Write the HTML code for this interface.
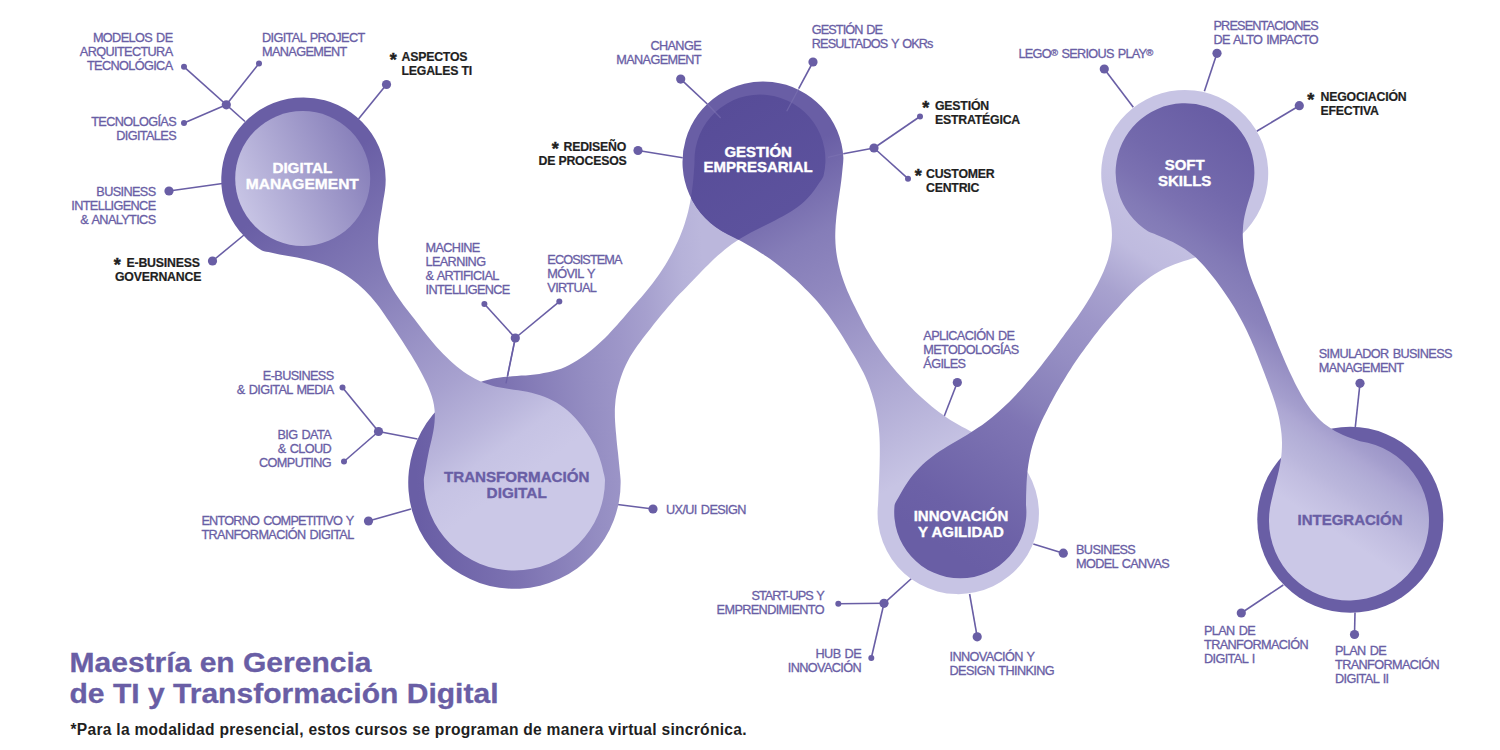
<!DOCTYPE html>
<html lang="es"><head><meta charset="utf-8"><title>Maestría en Gerencia de TI y Transformación Digital</title>
<style>
html,body{margin:0;padding:0;background:#fff;}
body{width:1500px;height:750px;overflow:hidden;}
svg{display:block;}
text{font-family:"Liberation Sans",sans-serif;}
.lr{font-size:12.7px;fill:#695ea5;letter-spacing:-0.62px;word-spacing:1.2px;stroke:#695ea5;stroke-width:0.3px;}
.lb{font-size:12.3px;font-weight:bold;fill:#1f1f1f;letter-spacing:-0.2px;stroke:#1f1f1f;stroke-width:0.2px;}
.st{font-size:18px;stroke-width:0.45px !important;}
.reg{font-size:9.5px;letter-spacing:-0.3px;}
.bt{font-size:15px;font-weight:bold;letter-spacing:0px;stroke-width:0.35px;}
.hd{font-size:28.5px;font-weight:bold;fill:#695ea5;stroke:#695ea5;stroke-width:0.3px;}
.ft{font-size:15.6px;font-weight:bold;fill:#1f1f1f;}
</style></head>
<body>
<svg width="1500" height="750" viewBox="0 0 1500 750">
<defs>
<linearGradient id="g1" gradientUnits="userSpaceOnUse" x1="306.0" y1="183.0" x2="517.0" y2="482.0"><stop offset="0" stop-color="#695ea5"/><stop offset="0.3" stop-color="#827ab6"/><stop offset="0.67" stop-color="#a7a1cf"/><stop offset="0.82" stop-color="#bab6dc"/><stop offset="0.9" stop-color="#c6c3e4"/><stop offset="1" stop-color="#cbc8e7"/></linearGradient>
<linearGradient id="g1i" gradientUnits="userSpaceOnUse" x1="240.0" y1="208.0" x2="368.0" y2="150.0"><stop offset="0" stop-color="#c8c5e5"/><stop offset="1" stop-color="#867eb9"/></linearGradient>
<linearGradient id="g2" gradientUnits="userSpaceOnUse" x1="417.0" y1="490.0" x2="720.0" y2="465.0"><stop offset="0" stop-color="#695ea5"/><stop offset="0.32" stop-color="#7d73b2"/><stop offset="0.58" stop-color="#948dc2"/><stop offset="0.71" stop-color="#9e97c9"/><stop offset="0.8" stop-color="#a6a0ce"/><stop offset="0.93" stop-color="#b6b2d9"/><stop offset="1" stop-color="#bbb7dc"/></linearGradient>
<linearGradient id="g3" gradientUnits="userSpaceOnUse" x1="766.5" y1="168.7" x2="931.7" y2="465.9"><stop offset="0" stop-color="#695ea5"/><stop offset="0.24" stop-color="#857db8"/><stop offset="0.4" stop-color="#9088bf"/><stop offset="1" stop-color="#c7c4e4"/></linearGradient>
<linearGradient id="g4" gradientUnits="userSpaceOnUse" x1="939.0" y1="545.4" x2="1169.5" y2="195.5"><stop offset="0" stop-color="#695ea5"/><stop offset="0.095" stop-color="#6c61a7"/><stop offset="0.221" stop-color="#756bad"/><stop offset="0.35" stop-color="#7f75b4"/><stop offset="0.408" stop-color="#877fb9"/><stop offset="0.544" stop-color="#958ec3"/><stop offset="0.65" stop-color="#9e97c9"/><stop offset="0.735" stop-color="#a8a2cf"/><stop offset="0.844" stop-color="#bfbbdf"/><stop offset="1" stop-color="#c7c4e4"/></linearGradient>
<linearGradient id="g5" gradientUnits="userSpaceOnUse" x1="1230.0" y1="128.3" x2="1076.0" y2="360.7"><stop offset="0" stop-color="#695ea5"/><stop offset="0.22" stop-color="#7369ac"/><stop offset="0.33" stop-color="#7b71b1"/><stop offset="0.41" stop-color="#827ab6"/><stop offset="0.53" stop-color="#8b83bc"/><stop offset="0.63" stop-color="#9a93c6"/><stop offset="0.7" stop-color="#a49ecd"/><stop offset="0.74" stop-color="#ada7d3"/><stop offset="0.79" stop-color="#b3afd7"/><stop offset="0.86" stop-color="#bbb7dc"/><stop offset="0.9" stop-color="#c1bde0"/><stop offset="1" stop-color="#cbc8e7"/></linearGradient>
<clipPath id="c3"><path d="M843.4 158.0 C843.4 161.0 843.0 164.0 842.7 167.0 C842.4 170.0 842.1 173.0 841.8 176.0 C841.5 179.0 841.1 182.0 840.7 185.0 C840.3 188.0 839.8 190.9 839.4 193.9 C839.0 196.9 838.5 199.9 838.1 202.9 C837.7 205.9 837.3 208.8 836.9 211.8 C836.6 214.8 836.2 217.8 836.0 220.8 C835.7 223.8 835.5 226.8 835.4 229.8 C835.3 232.8 835.2 235.8 835.3 238.8 C835.4 241.8 835.5 244.8 835.8 247.8 C836.1 250.8 836.5 253.8 837.0 256.7 C837.5 259.7 838.2 262.6 838.9 265.6 C839.6 268.5 840.4 271.4 841.3 274.2 C842.2 277.1 843.2 280.0 844.2 282.8 C845.2 285.6 846.4 288.4 847.5 291.2 C848.7 293.9 850.0 296.7 851.2 299.4 C852.5 302.1 853.8 304.8 855.2 307.6 C856.5 310.3 857.8 313.0 859.2 315.6 C860.6 318.3 862.0 321.0 863.4 323.7 C864.8 326.3 866.3 328.9 867.8 331.6 C869.3 334.2 870.8 336.7 872.4 339.3 C874.0 341.8 875.7 344.4 877.4 346.8 C879.1 349.3 880.8 351.8 882.6 354.2 C884.4 356.7 886.2 359.1 888.1 361.4 C889.9 363.8 891.8 366.1 893.8 368.4 C895.7 370.8 897.7 373.0 899.7 375.3 C901.7 377.5 903.7 379.8 905.8 381.9 C907.8 384.1 909.9 386.3 912.1 388.4 C914.2 390.6 916.3 392.7 918.5 394.8 C920.7 396.8 922.9 398.9 925.2 400.8 C927.5 402.8 929.8 404.8 932.1 406.7 C934.4 408.6 936.8 410.5 939.2 412.3 C941.6 414.0 944.1 415.8 946.6 417.5 C949.1 419.2 951.6 420.8 954.2 422.3 C956.8 423.9 959.4 425.3 962.0 426.8 C964.7 428.2 967.4 429.6 970.0 431.0 C972.7 432.4 975.4 433.8 978.0 435.2 C980.7 436.6 983.4 438.0 986.0 439.5 C988.6 440.9 991.2 442.4 993.8 444.0 C996.3 445.6 998.9 447.2 1001.3 448.9 C1003.8 450.7 1006.2 452.5 1008.5 454.4 C1010.8 456.3 1013.1 458.2 1015.3 460.3 C1017.5 462.3 1019.7 464.4 1021.8 466.5 C1023.9 468.6 1026.4 470.6 1028.1 473.0 A80.7 80.7 0 1 1 878.0 505.0 C878.2 502.0 878.3 499.0 878.4 496.0 C878.6 493.0 878.7 490.0 878.8 487.0 C878.9 484.1 879.1 481.1 879.2 478.1 C879.3 475.1 879.4 472.1 879.5 469.1 C879.6 466.1 879.7 463.1 879.7 460.1 C879.8 457.1 879.8 454.1 879.8 451.1 C879.8 448.1 879.8 445.1 879.7 442.1 C879.6 439.1 879.5 436.2 879.3 433.2 C879.1 430.2 878.8 427.2 878.4 424.2 C878.1 421.3 877.6 418.3 877.1 415.4 C876.6 412.4 876.0 409.5 875.3 406.6 C874.7 403.7 873.9 400.8 873.1 397.9 C872.3 395.0 871.4 392.2 870.4 389.4 C869.4 386.5 868.3 383.7 867.2 381.0 C866.0 378.2 864.8 375.5 863.5 372.8 C862.2 370.2 860.8 367.5 859.3 364.9 C857.9 362.3 856.4 359.7 854.9 357.1 C853.4 354.5 851.8 351.9 850.3 349.4 C848.8 346.8 847.2 344.2 845.7 341.7 C844.1 339.1 842.6 336.5 841.0 334.0 C839.4 331.5 837.8 329.0 836.1 326.5 C834.4 324.0 832.7 321.5 831.0 319.1 C829.3 316.6 827.5 314.2 825.7 311.8 C823.8 309.5 822.0 307.1 820.1 304.8 C818.2 302.5 816.2 300.3 814.2 298.1 C812.2 295.8 810.1 293.7 808.0 291.5 C805.9 289.4 803.8 287.3 801.7 285.2 C799.5 283.1 797.3 281.1 795.1 279.1 C792.8 277.1 790.6 275.1 788.3 273.2 C786.0 271.3 783.7 269.4 781.3 267.5 C779.0 265.6 776.6 263.8 774.2 262.0 C771.8 260.3 769.4 258.5 766.9 256.8 C764.5 255.1 762.0 253.5 759.4 251.9 C756.9 250.3 754.4 248.7 751.8 247.2 C749.2 245.7 746.6 244.2 744.0 242.7 C741.3 241.3 738.7 239.9 736.0 238.5 C733.4 237.2 730.7 235.9 728.0 234.5 A80.5 80.5 0 1 1 843.4 158.0 Z"/></clipPath>
<linearGradient id="gd" gradientUnits="userSpaceOnUse" x1="710" y1="110" x2="790" y2="235"><stop offset="0" stop-color="#574c98"/><stop offset="1" stop-color="#5d539e"/></linearGradient>
</defs>
<g stroke="#695ea5" stroke-width="1.6"><line x1="184.0" y1="66.8" x2="245.0" y2="121.5"/><line x1="259.0" y1="63.5" x2="226.3" y2="104.8"/><line x1="184.0" y1="123.0" x2="226.3" y2="104.8"/><line x1="386.5" y1="84.5" x2="358.5" y2="119.0"/><line x1="169.0" y1="191.0" x2="222.5" y2="183.5"/><line x1="212.5" y1="261.0" x2="244.0" y2="235.0"/><line x1="484.4" y1="304.0" x2="515.3" y2="338.0"/><line x1="559.3" y1="301.6" x2="515.3" y2="338.0"/><line x1="515.3" y1="338.0" x2="507.5" y2="376.0"/><line x1="342.5" y1="387.5" x2="378.5" y2="431.5"/><line x1="344.0" y1="461.5" x2="378.5" y2="431.5"/><line x1="378.5" y1="431.5" x2="417.5" y2="439.0"/><line x1="368.5" y1="521.0" x2="411.0" y2="509.0"/><line x1="653.0" y1="509.0" x2="617.5" y2="504.5"/><line x1="680.7" y1="79.1" x2="707.3" y2="104.0"/><line x1="813.0" y1="62.0" x2="798.7" y2="88.7"/><line x1="638.0" y1="150.5" x2="682.7" y2="157.7"/><line x1="920.0" y1="116.5" x2="874.0" y2="148.0"/><line x1="908.0" y1="178.7" x2="874.0" y2="148.0"/><line x1="874.0" y1="148.0" x2="843.3" y2="153.7"/><line x1="957.3" y1="382.5" x2="944.0" y2="416.7"/><line x1="1063.3" y1="553.2" x2="1033.3" y2="544.0"/><line x1="838.3" y1="603.7" x2="884.0" y2="603.3"/><line x1="871.3" y1="658.0" x2="884.0" y2="603.3"/><line x1="884.0" y1="603.3" x2="912.0" y2="578.0"/><line x1="977.2" y1="636.8" x2="969.6" y2="594.0"/><line x1="1104.3" y1="69.0" x2="1133.3" y2="107.3"/><line x1="1217.0" y1="53.3" x2="1204.4" y2="91.3"/><line x1="1299.3" y1="105.7" x2="1256.7" y2="131.3"/><line x1="1360.0" y1="383.3" x2="1355.3" y2="427.0"/><line x1="1241.3" y1="613.0" x2="1283.3" y2="585.0"/><line x1="1354.5" y1="634.5" x2="1355.0" y2="612.5"/></g>
<g fill="#695ea5"><circle cx="184.0" cy="66.8" r="3.0"/><circle cx="259.0" cy="63.5" r="3.0"/><circle cx="184.0" cy="123.0" r="3.0"/><circle cx="226.3" cy="104.8" r="4.6"/><circle cx="386.5" cy="84.5" r="4.6"/><circle cx="169.0" cy="191.0" r="4.6"/><circle cx="212.5" cy="261.0" r="4.6"/><circle cx="484.4" cy="304.0" r="3.0"/><circle cx="559.3" cy="301.6" r="3.0"/><circle cx="515.3" cy="338.0" r="4.6"/><circle cx="342.5" cy="387.5" r="3.0"/><circle cx="344.0" cy="461.5" r="3.0"/><circle cx="378.5" cy="431.5" r="4.6"/><circle cx="368.5" cy="521.0" r="4.6"/><circle cx="653.0" cy="509.0" r="4.6"/><circle cx="680.7" cy="79.1" r="4.6"/><circle cx="813.0" cy="62.0" r="4.6"/><circle cx="638.0" cy="150.5" r="4.6"/><circle cx="920.0" cy="116.5" r="3.0"/><circle cx="908.0" cy="178.7" r="3.0"/><circle cx="874.0" cy="148.0" r="4.6"/><circle cx="957.3" cy="382.5" r="4.6"/><circle cx="1063.3" cy="553.2" r="4.6"/><circle cx="838.3" cy="603.7" r="3.0"/><circle cx="871.3" cy="658.0" r="3.0"/><circle cx="884.0" cy="603.3" r="4.6"/><circle cx="977.2" cy="636.8" r="4.6"/><circle cx="1104.3" cy="69.0" r="4.6"/><circle cx="1217.0" cy="53.3" r="4.6"/><circle cx="1299.3" cy="105.7" r="4.6"/><circle cx="1360.0" cy="383.3" r="4.6"/><circle cx="1241.3" cy="613.0" r="4.6"/><circle cx="1354.5" cy="634.5" r="4.6"/></g>
<path d="M503.3 377.0 C506.3 376.7 509.3 376.5 512.3 376.3 C515.3 376.1 518.3 375.9 521.3 375.6 C524.3 375.4 527.3 375.2 530.3 374.9 C533.3 374.6 536.3 374.3 539.3 373.9 C542.3 373.4 545.2 372.9 548.2 372.3 C551.1 371.7 554.0 370.9 556.8 370.0 C559.7 369.1 562.5 368.1 565.2 366.9 C567.9 365.7 570.6 364.3 573.2 362.8 C575.8 361.4 578.3 359.7 580.8 358.1 C583.3 356.4 585.7 354.6 588.1 352.8 C590.5 351.0 592.8 349.0 595.1 347.1 C597.3 345.1 599.6 343.1 601.7 341.0 C603.9 338.9 606.1 336.8 608.2 334.7 C610.3 332.5 612.3 330.3 614.3 328.1 C616.4 325.8 618.4 323.6 620.3 321.3 C622.3 319.1 624.3 316.8 626.2 314.5 C628.2 312.2 630.2 309.9 632.2 307.6 C634.1 305.4 636.1 303.1 638.1 300.8 C640.1 298.6 642.1 296.3 644.0 294.0 C645.9 291.7 647.9 289.4 649.7 287.0 C651.6 284.7 653.4 282.3 655.2 279.8 C656.9 277.4 658.7 274.9 660.4 272.4 C662.0 270.0 663.7 267.4 665.3 264.9 C666.9 262.3 668.4 259.7 669.9 257.1 C671.4 254.5 672.8 251.8 674.1 249.1 C675.4 246.5 676.7 243.7 678.0 241.0 C679.2 238.2 680.3 235.5 681.4 232.7 C682.5 229.9 683.6 227.0 684.5 224.2 C685.4 221.3 686.3 218.5 687.1 215.6 C687.9 212.7 688.6 209.7 689.2 206.8 C689.9 203.9 690.4 200.9 690.9 197.9 C691.4 195.0 691.8 192.0 692.2 189.0 C692.6 186.0 692.9 183.0 693.2 180.0 C693.5 177.0 693.7 174.0 693.9 171.0 C694.2 168.0 694.4 165.0 694.5 162.0 A65.5 65.5 0 1 1 823.5 176.0 C822.5 178.8 820.4 181.1 818.8 183.6 C817.2 186.1 815.5 188.6 813.7 191.0 C811.9 193.4 810.0 195.6 808.0 197.8 C806.0 199.9 803.8 202.0 801.5 203.9 C799.2 205.8 796.8 207.5 794.4 209.2 C791.9 210.9 789.4 212.5 786.8 214.0 C784.2 215.5 781.6 216.9 778.9 218.3 C776.3 219.8 773.6 221.1 771.0 222.5 C768.3 223.9 765.6 225.2 762.9 226.5 C760.3 227.9 757.6 229.2 754.9 230.6 C752.2 232.0 749.6 233.4 747.0 234.8 C744.3 236.3 741.7 237.8 739.2 239.3 C736.7 240.9 734.2 242.6 731.7 244.3 C729.3 246.0 726.9 247.9 724.6 249.7 C722.3 251.6 720.0 253.6 717.8 255.6 C715.6 257.6 713.4 259.6 711.2 261.7 C709.1 263.8 706.9 265.9 704.8 268.0 C702.7 270.2 700.6 272.3 698.6 274.5 C696.5 276.6 694.4 278.8 692.3 281.0 C690.2 283.1 688.1 285.2 686.1 287.4 C684.0 289.5 681.9 291.7 679.8 293.8 C677.7 296.0 675.7 298.2 673.7 300.4 C671.7 302.7 669.7 304.9 667.8 307.2 C665.9 309.5 664.0 311.8 662.1 314.1 C660.2 316.5 658.3 318.8 656.4 321.1 C654.5 323.5 652.7 325.8 650.8 328.2 C648.9 330.5 647.1 332.9 645.2 335.2 C643.4 337.6 641.5 340.0 639.8 342.4 C638.0 344.8 636.2 347.2 634.6 349.7 C632.9 352.2 631.3 354.7 629.8 357.3 C628.3 359.9 627.0 362.5 625.7 365.2 C624.4 367.9 623.3 370.7 622.2 373.5 C621.2 376.3 620.2 379.1 619.4 382.0 C618.5 384.8 617.8 387.7 617.1 390.6 C616.5 393.5 616.0 396.5 615.6 399.4 C615.3 402.4 615.1 405.3 614.9 408.3 C614.8 411.3 614.9 414.3 614.9 417.3 C615.0 420.3 615.2 423.3 615.4 426.3 C615.6 429.2 615.9 432.2 616.2 435.2 C616.4 438.2 616.7 441.2 617.0 444.2 C617.3 447.2 617.7 450.1 618.0 453.1 C618.3 456.1 618.6 459.1 618.9 462.1 C619.2 465.1 619.5 468.0 619.8 471.0 C620.0 474.0 620.5 477.0 620.6 480.0 A106.2 106.2 0 1 1 503.3 377.0 Z" fill="url(#g2)"/>
<line x1="515.3" y1="338" x2="506" y2="383.3" stroke="#695ea5" stroke-width="1.3" opacity="0.8"/>
<path d="M385.0 190.1 C384.7 193.0 384.0 196.0 383.5 199.0 C383.0 201.9 382.5 204.9 382.1 207.9 C381.6 210.9 381.0 213.8 380.6 216.8 C380.1 219.8 379.6 222.8 379.2 225.7 C378.9 228.7 378.5 231.7 378.3 234.7 C378.1 237.7 378.0 240.7 378.1 243.6 C378.2 246.6 378.4 249.6 378.9 252.6 C379.3 255.5 379.9 258.4 380.6 261.3 C381.3 264.2 382.2 267.1 383.3 269.9 C384.3 272.7 385.5 275.5 386.7 278.2 C388.0 280.9 389.4 283.5 390.9 286.1 C392.4 288.7 394.0 291.3 395.6 293.8 C397.3 296.3 399.0 298.8 400.8 301.2 C402.5 303.7 404.3 306.1 406.1 308.5 C408.0 310.9 409.8 313.3 411.6 315.6 C413.5 318.0 415.3 320.4 417.2 322.8 C419.0 325.2 420.8 327.6 422.7 330.0 C424.6 332.3 426.4 334.7 428.3 337.0 C430.2 339.3 432.2 341.7 434.1 343.9 C436.1 346.2 438.1 348.5 440.2 350.7 C442.2 352.9 444.3 355.0 446.4 357.1 C448.6 359.3 450.8 361.3 453.0 363.3 C455.3 365.3 457.6 367.2 460.0 369.0 C462.3 370.9 464.8 372.6 467.3 374.3 C469.8 375.9 472.4 377.4 475.0 378.8 C477.7 380.2 480.4 381.5 483.1 382.6 C485.9 383.7 488.7 384.6 491.6 385.4 C494.5 386.3 497.4 386.9 500.4 387.4 C503.3 388.0 506.3 388.4 509.2 388.9 C512.2 389.4 515.2 389.7 518.2 390.2 C521.1 390.7 524.1 391.2 527.1 391.8 C530.0 392.5 532.9 393.1 535.8 394.0 C538.7 394.8 541.5 395.7 544.3 396.7 C547.1 397.8 549.9 399.0 552.5 400.4 C555.1 401.7 557.7 403.2 560.2 404.9 C562.6 406.5 565.0 408.4 567.3 410.3 C569.5 412.2 571.7 414.3 573.8 416.5 C575.9 418.6 577.8 420.9 579.7 423.2 C581.7 425.5 583.5 427.9 585.2 430.4 C586.9 432.8 588.6 435.3 590.1 437.9 C591.7 440.5 593.1 443.1 594.5 445.8 C595.8 448.5 597.0 451.2 598.1 454.0 C599.2 456.8 600.2 459.6 601.0 462.5 C601.9 465.3 602.6 468.2 603.2 471.2 C603.9 474.1 604.8 477.0 605.0 480.0 A90.6 90.6 0 0 1 423.8 480.0 C423.9 477.0 424.7 474.1 425.2 471.1 C425.7 468.1 426.2 465.2 426.7 462.2 C427.2 459.3 427.8 456.3 428.4 453.4 C429.0 450.4 429.7 447.5 430.4 444.6 C431.1 441.7 431.8 438.8 432.4 435.8 C433.0 432.9 433.6 429.9 434.0 427.0 C434.4 424.1 434.7 421.1 434.8 418.1 C434.9 415.2 434.8 412.2 434.5 409.3 C434.2 406.3 433.7 403.4 433.0 400.5 C432.3 397.7 431.4 394.8 430.3 392.0 C429.3 389.2 428.1 386.5 426.9 383.8 C425.6 381.1 424.2 378.4 422.9 375.7 C421.5 373.0 420.1 370.4 418.6 367.8 C417.1 365.2 415.6 362.5 414.1 360.0 C412.6 357.4 411.0 354.8 409.4 352.3 C407.8 349.7 406.2 347.2 404.6 344.7 C402.9 342.2 401.3 339.7 399.6 337.1 C397.9 334.6 396.3 332.1 394.6 329.6 C392.9 327.1 391.3 324.6 389.6 322.1 C387.9 319.6 386.3 317.1 384.6 314.7 C382.9 312.2 381.2 309.7 379.4 307.3 C377.6 304.9 375.8 302.5 373.8 300.2 C371.9 298.0 369.9 295.7 367.8 293.6 C365.8 291.4 363.6 289.3 361.4 287.3 C359.2 285.3 356.9 283.3 354.6 281.5 C352.2 279.6 349.8 277.8 347.4 276.2 C344.9 274.5 342.3 272.9 339.7 271.5 C337.1 270.0 334.4 268.7 331.7 267.5 C329.0 266.3 326.2 265.3 323.3 264.3 C320.5 263.3 317.6 262.5 314.8 261.7 C311.9 260.9 308.9 260.2 306.0 259.5 C303.1 258.8 300.1 258.2 297.2 257.6 C294.3 257.1 291.3 256.6 288.3 256.0 C285.4 255.5 282.4 254.9 279.5 254.4 C276.5 253.8 273.6 253.2 270.7 252.5 C267.7 251.9 264.6 251.7 261.9 250.5 A82.2 82.2 0 1 1 385.0 190.1 Z" fill="url(#g1)"/>
<circle cx="302.7" cy="178.5" r="67.5" fill="url(#g1i)" />
<path d="M843.4 158.0 C843.4 161.0 843.0 164.0 842.7 167.0 C842.4 170.0 842.1 173.0 841.8 176.0 C841.5 179.0 841.1 182.0 840.7 185.0 C840.3 188.0 839.8 190.9 839.4 193.9 C839.0 196.9 838.5 199.9 838.1 202.9 C837.7 205.9 837.3 208.8 836.9 211.8 C836.6 214.8 836.2 217.8 836.0 220.8 C835.7 223.8 835.5 226.8 835.4 229.8 C835.3 232.8 835.2 235.8 835.3 238.8 C835.4 241.8 835.5 244.8 835.8 247.8 C836.1 250.8 836.5 253.8 837.0 256.7 C837.5 259.7 838.2 262.6 838.9 265.6 C839.6 268.5 840.4 271.4 841.3 274.2 C842.2 277.1 843.2 280.0 844.2 282.8 C845.2 285.6 846.4 288.4 847.5 291.2 C848.7 293.9 850.0 296.7 851.2 299.4 C852.5 302.1 853.8 304.8 855.2 307.6 C856.5 310.3 857.8 313.0 859.2 315.6 C860.6 318.3 862.0 321.0 863.4 323.7 C864.8 326.3 866.3 328.9 867.8 331.6 C869.3 334.2 870.8 336.7 872.4 339.3 C874.0 341.8 875.7 344.4 877.4 346.8 C879.1 349.3 880.8 351.8 882.6 354.2 C884.4 356.7 886.2 359.1 888.1 361.4 C889.9 363.8 891.8 366.1 893.8 368.4 C895.7 370.8 897.7 373.0 899.7 375.3 C901.7 377.5 903.7 379.8 905.8 381.9 C907.8 384.1 909.9 386.3 912.1 388.4 C914.2 390.6 916.3 392.7 918.5 394.8 C920.7 396.8 922.9 398.9 925.2 400.8 C927.5 402.8 929.8 404.8 932.1 406.7 C934.4 408.6 936.8 410.5 939.2 412.3 C941.6 414.0 944.1 415.8 946.6 417.5 C949.1 419.2 951.6 420.8 954.2 422.3 C956.8 423.9 959.4 425.3 962.0 426.8 C964.7 428.2 967.4 429.6 970.0 431.0 C972.7 432.4 975.4 433.8 978.0 435.2 C980.7 436.6 983.4 438.0 986.0 439.5 C988.6 440.9 991.2 442.4 993.8 444.0 C996.3 445.6 998.9 447.2 1001.3 448.9 C1003.8 450.7 1006.2 452.5 1008.5 454.4 C1010.8 456.3 1013.1 458.2 1015.3 460.3 C1017.5 462.3 1019.7 464.4 1021.8 466.5 C1023.9 468.6 1026.4 470.6 1028.1 473.0 A80.7 80.7 0 1 1 878.0 505.0 C878.2 502.0 878.3 499.0 878.4 496.0 C878.6 493.0 878.7 490.0 878.8 487.0 C878.9 484.1 879.1 481.1 879.2 478.1 C879.3 475.1 879.4 472.1 879.5 469.1 C879.6 466.1 879.7 463.1 879.7 460.1 C879.8 457.1 879.8 454.1 879.8 451.1 C879.8 448.1 879.8 445.1 879.7 442.1 C879.6 439.1 879.5 436.2 879.3 433.2 C879.1 430.2 878.8 427.2 878.4 424.2 C878.1 421.3 877.6 418.3 877.1 415.4 C876.6 412.4 876.0 409.5 875.3 406.6 C874.7 403.7 873.9 400.8 873.1 397.9 C872.3 395.0 871.4 392.2 870.4 389.4 C869.4 386.5 868.3 383.7 867.2 381.0 C866.0 378.2 864.8 375.5 863.5 372.8 C862.2 370.2 860.8 367.5 859.3 364.9 C857.9 362.3 856.4 359.7 854.9 357.1 C853.4 354.5 851.8 351.9 850.3 349.4 C848.8 346.8 847.2 344.2 845.7 341.7 C844.1 339.1 842.6 336.5 841.0 334.0 C839.4 331.5 837.8 329.0 836.1 326.5 C834.4 324.0 832.7 321.5 831.0 319.1 C829.3 316.6 827.5 314.2 825.7 311.8 C823.8 309.5 822.0 307.1 820.1 304.8 C818.2 302.5 816.2 300.3 814.2 298.1 C812.2 295.8 810.1 293.7 808.0 291.5 C805.9 289.4 803.8 287.3 801.7 285.2 C799.5 283.1 797.3 281.1 795.1 279.1 C792.8 277.1 790.6 275.1 788.3 273.2 C786.0 271.3 783.7 269.4 781.3 267.5 C779.0 265.6 776.6 263.8 774.2 262.0 C771.8 260.3 769.4 258.5 766.9 256.8 C764.5 255.1 762.0 253.5 759.4 251.9 C756.9 250.3 754.4 248.7 751.8 247.2 C749.2 245.7 746.6 244.2 744.0 242.7 C741.3 241.3 738.7 239.9 736.0 238.5 C733.4 237.2 730.7 235.9 728.0 234.5 A80.5 80.5 0 1 1 843.4 158.0 Z" fill="url(#g3)"/>
<path d="M503.3 377.0 C506.3 376.7 509.3 376.5 512.3 376.3 C515.3 376.1 518.3 375.9 521.3 375.6 C524.3 375.4 527.3 375.2 530.3 374.9 C533.3 374.6 536.3 374.3 539.3 373.9 C542.3 373.4 545.2 372.9 548.2 372.3 C551.1 371.7 554.0 370.9 556.8 370.0 C559.7 369.1 562.5 368.1 565.2 366.9 C567.9 365.7 570.6 364.3 573.2 362.8 C575.8 361.4 578.3 359.7 580.8 358.1 C583.3 356.4 585.7 354.6 588.1 352.8 C590.5 351.0 592.8 349.0 595.1 347.1 C597.3 345.1 599.6 343.1 601.7 341.0 C603.9 338.9 606.1 336.8 608.2 334.7 C610.3 332.5 612.3 330.3 614.3 328.1 C616.4 325.8 618.4 323.6 620.3 321.3 C622.3 319.1 624.3 316.8 626.2 314.5 C628.2 312.2 630.2 309.9 632.2 307.6 C634.1 305.4 636.1 303.1 638.1 300.8 C640.1 298.6 642.1 296.3 644.0 294.0 C645.9 291.7 647.9 289.4 649.7 287.0 C651.6 284.7 653.4 282.3 655.2 279.8 C656.9 277.4 658.7 274.9 660.4 272.4 C662.0 270.0 663.7 267.4 665.3 264.9 C666.9 262.3 668.4 259.7 669.9 257.1 C671.4 254.5 672.8 251.8 674.1 249.1 C675.4 246.5 676.7 243.7 678.0 241.0 C679.2 238.2 680.3 235.5 681.4 232.7 C682.5 229.9 683.6 227.0 684.5 224.2 C685.4 221.3 686.3 218.5 687.1 215.6 C687.9 212.7 688.6 209.7 689.2 206.8 C689.9 203.9 690.4 200.9 690.9 197.9 C691.4 195.0 691.8 192.0 692.2 189.0 C692.6 186.0 692.9 183.0 693.2 180.0 C693.5 177.0 693.7 174.0 693.9 171.0 C694.2 168.0 694.4 165.0 694.5 162.0 A65.5 65.5 0 1 1 823.5 176.0 C822.5 178.8 820.4 181.1 818.8 183.6 C817.2 186.1 815.5 188.6 813.7 191.0 C811.9 193.4 810.0 195.6 808.0 197.8 C806.0 199.9 803.8 202.0 801.5 203.9 C799.2 205.8 796.8 207.5 794.4 209.2 C791.9 210.9 789.4 212.5 786.8 214.0 C784.2 215.5 781.6 216.9 778.9 218.3 C776.3 219.8 773.6 221.1 771.0 222.5 C768.3 223.9 765.6 225.2 762.9 226.5 C760.3 227.9 757.6 229.2 754.9 230.6 C752.2 232.0 749.6 233.4 747.0 234.8 C744.3 236.3 741.7 237.8 739.2 239.3 C736.7 240.9 734.2 242.6 731.7 244.3 C729.3 246.0 726.9 247.9 724.6 249.7 C722.3 251.6 720.0 253.6 717.8 255.6 C715.6 257.6 713.4 259.6 711.2 261.7 C709.1 263.8 706.9 265.9 704.8 268.0 C702.7 270.2 700.6 272.3 698.6 274.5 C696.5 276.6 694.4 278.8 692.3 281.0 C690.2 283.1 688.1 285.2 686.1 287.4 C684.0 289.5 681.9 291.7 679.8 293.8 C677.7 296.0 675.7 298.2 673.7 300.4 C671.7 302.7 669.7 304.9 667.8 307.2 C665.9 309.5 664.0 311.8 662.1 314.1 C660.2 316.5 658.3 318.8 656.4 321.1 C654.5 323.5 652.7 325.8 650.8 328.2 C648.9 330.5 647.1 332.9 645.2 335.2 C643.4 337.6 641.5 340.0 639.8 342.4 C638.0 344.8 636.2 347.2 634.6 349.7 C632.9 352.2 631.3 354.7 629.8 357.3 C628.3 359.9 627.0 362.5 625.7 365.2 C624.4 367.9 623.3 370.7 622.2 373.5 C621.2 376.3 620.2 379.1 619.4 382.0 C618.5 384.8 617.8 387.7 617.1 390.6 C616.5 393.5 616.0 396.5 615.6 399.4 C615.3 402.4 615.1 405.3 614.9 408.3 C614.8 411.3 614.9 414.3 614.9 417.3 C615.0 420.3 615.2 423.3 615.4 426.3 C615.6 429.2 615.9 432.2 616.2 435.2 C616.4 438.2 616.7 441.2 617.0 444.2 C617.3 447.2 617.7 450.1 618.0 453.1 C618.3 456.1 618.6 459.1 618.9 462.1 C619.2 465.1 619.5 468.0 619.8 471.0 C620.0 474.0 620.5 477.0 620.6 480.0 A106.2 106.2 0 1 1 503.3 377.0 Z" fill="url(#gd)" clip-path="url(#c3)"/>
<path d="M894.6 505.0 C895.3 502.1 897.3 499.6 898.7 497.0 C900.1 494.4 901.5 491.8 903.1 489.2 C904.6 486.6 906.2 484.1 907.9 481.7 C909.6 479.2 911.4 476.9 913.3 474.6 C915.2 472.3 917.2 470.1 919.2 467.9 C921.3 465.8 923.5 463.8 925.7 461.8 C928.0 459.9 930.3 458.0 932.7 456.2 C935.1 454.4 937.5 452.7 940.0 451.1 C942.5 449.5 945.0 447.9 947.6 446.3 C950.1 444.8 952.7 443.3 955.3 441.8 C957.9 440.3 960.5 438.8 963.0 437.2 C965.6 435.7 968.1 434.1 970.7 432.5 C973.2 430.9 975.7 429.3 978.2 427.6 C980.6 425.9 983.1 424.2 985.5 422.4 C987.9 420.6 990.2 418.8 992.5 416.9 C994.9 415.0 997.1 413.1 999.4 411.1 C1001.6 409.1 1003.8 407.1 1005.9 405.0 C1008.1 403.0 1010.2 400.8 1012.3 398.7 C1014.4 396.6 1016.4 394.4 1018.4 392.2 C1020.5 390.0 1022.5 387.8 1024.5 385.5 C1026.4 383.3 1028.4 381.0 1030.3 378.8 C1032.3 376.5 1034.2 374.2 1036.1 371.9 C1038.0 369.6 1039.8 367.2 1041.7 364.9 C1043.6 362.5 1045.4 360.2 1047.2 357.8 C1049.0 355.4 1050.8 353.1 1052.6 350.7 C1054.4 348.3 1056.2 345.9 1058.0 343.4 C1059.7 341.0 1061.5 338.6 1063.3 336.2 C1065.0 333.8 1066.8 331.4 1068.6 329.0 C1070.4 326.6 1072.2 324.2 1073.9 321.8 C1075.7 319.4 1077.4 317.0 1079.1 314.5 C1080.8 312.0 1082.5 309.5 1084.1 307.0 C1085.7 304.5 1087.3 302.0 1088.8 299.4 C1090.4 296.9 1091.9 294.3 1093.3 291.7 C1094.8 289.1 1096.3 286.5 1097.7 283.8 C1099.0 281.2 1100.4 278.5 1101.6 275.8 C1102.9 273.1 1104.1 270.4 1105.1 267.6 C1106.2 264.8 1107.2 262.0 1108.1 259.2 C1108.9 256.3 1109.7 253.4 1110.3 250.5 C1110.9 247.6 1111.3 244.7 1111.6 241.8 C1111.9 238.8 1112.0 235.9 1111.9 232.9 C1111.9 230.0 1111.6 227.0 1111.2 224.1 C1110.8 221.1 1110.2 218.2 1109.6 215.3 C1109.0 212.4 1108.2 209.5 1107.4 206.6 C1106.6 203.8 1105.7 200.9 1104.9 198.0 A83.5 83.5 0 1 1 1205.0 254.5 C1202.1 255.4 1199.2 256.3 1196.3 257.2 C1193.4 258.1 1190.5 259.0 1187.6 259.9 C1184.7 260.8 1181.8 261.7 1179.0 262.7 C1176.1 263.6 1173.3 264.7 1170.5 265.9 C1167.7 267.0 1165.0 268.3 1162.3 269.7 C1159.6 271.1 1157.0 272.6 1154.5 274.3 C1151.9 275.9 1149.4 277.6 1147.0 279.4 C1144.6 281.2 1142.3 283.1 1140.0 285.1 C1137.7 287.1 1135.5 289.2 1133.3 291.3 C1131.1 293.4 1129.0 295.6 1126.9 297.8 C1124.8 300.0 1122.8 302.2 1120.7 304.4 C1118.7 306.7 1116.7 309.0 1114.6 311.2 C1112.6 313.5 1110.6 315.8 1108.7 318.1 C1106.7 320.4 1104.7 322.7 1102.8 325.1 C1100.9 327.4 1099.0 329.8 1097.1 332.2 C1095.2 334.6 1093.4 337.0 1091.5 339.4 C1089.7 341.8 1087.9 344.3 1086.1 346.7 C1084.3 349.2 1082.6 351.7 1080.8 354.1 C1079.1 356.6 1077.3 359.1 1075.6 361.6 C1073.9 364.2 1072.2 366.7 1070.6 369.2 C1068.9 371.8 1067.3 374.3 1065.7 376.9 C1064.1 379.5 1062.5 382.1 1060.9 384.7 C1059.4 387.3 1057.9 389.9 1056.4 392.6 C1054.9 395.2 1053.5 397.9 1052.1 400.6 C1050.6 403.3 1049.2 406.0 1047.8 408.7 C1046.5 411.4 1045.1 414.1 1043.7 416.8 C1042.4 419.5 1041.1 422.3 1039.9 425.0 C1038.6 427.8 1037.5 430.6 1036.4 433.4 C1035.3 436.3 1034.4 439.1 1033.5 442.0 C1032.6 444.9 1031.8 447.8 1031.0 450.8 C1030.3 453.7 1029.7 456.7 1029.2 459.7 C1028.6 462.6 1028.2 465.7 1027.8 468.7 C1027.4 471.7 1027.2 474.7 1026.9 477.7 C1026.7 480.7 1026.5 483.8 1026.4 486.8 C1026.3 489.8 1026.2 492.9 1026.1 495.9 C1026.1 498.9 1026.0 502.0 1026.0 505.0 A66.1 66.1 0 1 1 894.6 505.0 Z" fill="url(#g4)"/>
<circle cx="1350.3" cy="519.8" r="93.0" fill="#695ea5" />
<path d="M1253.1 186.0 C1252.5 189.0 1251.4 191.8 1250.6 194.7 C1249.7 197.6 1248.8 200.4 1247.9 203.3 C1247.1 206.2 1246.2 209.1 1245.5 212.0 C1244.8 214.9 1244.2 217.8 1243.7 220.8 C1243.3 223.7 1243.0 226.7 1242.9 229.7 C1242.7 232.7 1242.7 235.8 1242.9 238.8 C1243.0 241.8 1243.3 244.8 1243.6 247.8 C1244.0 250.8 1244.5 253.7 1245.1 256.7 C1245.7 259.7 1246.4 262.6 1247.1 265.5 C1247.9 268.4 1248.8 271.3 1249.8 274.2 C1250.8 277.0 1251.8 279.9 1252.9 282.7 C1254.0 285.5 1255.2 288.3 1256.3 291.1 C1257.5 293.9 1258.6 296.7 1259.8 299.5 C1260.9 302.3 1262.0 305.1 1263.2 307.9 C1264.3 310.8 1265.4 313.6 1266.6 316.4 C1267.7 319.2 1268.8 322.0 1269.9 324.8 C1271.1 327.6 1272.2 330.5 1273.3 333.3 C1274.4 336.1 1275.6 338.9 1276.7 341.7 C1277.8 344.5 1279.0 347.3 1280.1 350.1 C1281.3 352.9 1282.5 355.7 1283.7 358.5 C1284.9 361.3 1286.1 364.1 1287.3 366.8 C1288.5 369.6 1289.8 372.4 1291.1 375.1 C1292.4 377.8 1293.7 380.6 1295.0 383.3 C1296.4 386.0 1297.8 388.7 1299.3 391.3 C1300.7 394.0 1302.2 396.6 1303.8 399.2 C1305.4 401.7 1307.0 404.3 1308.8 406.7 C1310.5 409.2 1312.4 411.6 1314.3 413.8 C1316.3 416.1 1318.3 418.3 1320.5 420.4 C1322.7 422.4 1325.0 424.4 1327.4 426.1 C1329.8 427.9 1332.3 429.5 1334.9 431.0 C1337.5 432.5 1340.3 433.8 1343.0 435.0 C1345.8 436.2 1348.6 437.3 1351.4 438.3 C1354.3 439.4 1357.1 440.5 1360.0 441.3 A80.0 80.0 0 1 1 1270.5 505.0 C1271.1 502.0 1271.8 499.1 1272.5 496.2 C1273.2 493.2 1273.9 490.3 1274.6 487.3 C1275.4 484.4 1276.1 481.5 1276.9 478.5 C1277.6 475.6 1278.3 472.7 1279.0 469.7 C1279.6 466.8 1280.2 463.8 1280.7 460.8 C1281.1 457.9 1281.5 454.9 1281.7 451.9 C1281.9 448.9 1282.0 445.9 1282.0 442.9 C1281.9 439.9 1281.8 436.8 1281.5 433.8 C1281.2 430.8 1280.8 427.8 1280.3 424.9 C1279.9 421.9 1279.3 418.9 1278.6 416.0 C1277.9 413.0 1277.2 410.1 1276.3 407.2 C1275.5 404.3 1274.6 401.4 1273.6 398.6 C1272.7 395.7 1271.7 392.8 1270.6 390.0 C1269.6 387.1 1268.6 384.3 1267.5 381.5 C1266.4 378.6 1265.4 375.8 1264.3 373.0 C1263.2 370.1 1262.1 367.3 1261.0 364.5 C1259.9 361.7 1258.8 358.9 1257.7 356.0 C1256.6 353.2 1255.4 350.4 1254.3 347.6 C1253.1 344.8 1251.9 342.1 1250.7 339.3 C1249.5 336.5 1248.2 333.8 1246.9 331.0 C1245.6 328.3 1244.3 325.6 1242.9 322.9 C1241.5 320.2 1240.0 317.6 1238.5 315.0 C1237.1 312.3 1235.5 309.7 1234.0 307.1 C1232.4 304.5 1230.8 302.0 1229.2 299.4 C1227.5 296.9 1225.8 294.4 1224.1 291.9 C1222.4 289.4 1220.6 287.0 1218.8 284.5 C1217.0 282.1 1215.2 279.7 1213.3 277.3 C1211.4 275.0 1209.5 272.6 1207.6 270.3 C1205.7 268.0 1203.7 265.7 1201.7 263.5 C1199.6 261.3 1197.5 259.1 1195.3 257.1 C1193.0 255.1 1190.7 253.2 1188.3 251.4 C1185.9 249.7 1183.3 248.0 1180.8 246.5 C1178.2 244.9 1175.5 243.5 1172.8 242.1 C1170.2 240.7 1167.4 239.5 1164.6 238.2 C1161.9 237.0 1159.1 235.8 1156.3 234.7 C1153.5 233.5 1150.5 232.8 1147.9 231.3 A69.4 69.4 0 1 1 1253.1 186.0 Z" fill="url(#g5)"/>
<g stroke="#7f75b4" stroke-width="1.3" opacity="0.55"><line x1="707.3" y1="104.0" x2="720.7" y2="118.0"/><line x1="798.7" y1="88.7" x2="786.7" y2="111.3"/><line x1="843.3" y1="153.7" x2="828.0" y2="157.3"/></g>
<text class="lr" x="172.5" y="41.7" text-anchor="end">MODELOS DE</text>
<text class="lr" x="172.5" y="55.7" text-anchor="end">ARQUITECTURA</text>
<text class="lr" x="172.5" y="69.7" text-anchor="end">TECNOLÓGICA</text>
<text class="lr" x="262.0" y="41.7" text-anchor="start">DIGITAL PROJECT</text>
<text class="lr" x="262.0" y="55.7" text-anchor="start">MANAGEMENT</text>
<text class="lr" x="176.0" y="126.1" text-anchor="end">TECNOLOGÍAS</text>
<text class="lr" x="176.0" y="140.1" text-anchor="end">DIGITALES</text>
<text class="lr" x="155.5" y="195.6" text-anchor="end">BUSINESS</text>
<text class="lr" x="155.5" y="209.6" text-anchor="end">INTELLIGENCE</text>
<text class="lr" x="155.5" y="223.6" text-anchor="end">&amp; ANALYTICS</text>
<text class="lr" x="425.5" y="252.4" text-anchor="start">MACHINE</text>
<text class="lr" x="425.5" y="266.4" text-anchor="start">LEARNING</text>
<text class="lr" x="425.5" y="280.4" text-anchor="start">&amp; ARTIFICIAL</text>
<text class="lr" x="425.5" y="294.4" text-anchor="start">INTELLIGENCE</text>
<text class="lr" x="547.3" y="264.1" text-anchor="start" textLength="74.6" lengthAdjust="spacing">ECOSISTEMA</text>
<text class="lr" x="547.3" y="278.1" text-anchor="start">MÓVIL Y</text>
<text class="lr" x="547.3" y="292.1" text-anchor="start">VIRTUAL</text>
<text class="lr" x="333.5" y="380.1" text-anchor="end">E-BUSINESS</text>
<text class="lr" x="333.5" y="394.1" text-anchor="end">&amp; DIGITAL MEDIA</text>
<text class="lr" x="331.0" y="439.0" text-anchor="end">BIG DATA</text>
<text class="lr" x="331.0" y="453.0" text-anchor="end">&amp; CLOUD</text>
<text class="lr" x="331.0" y="467.0" text-anchor="end">COMPUTING</text>
<text class="lr" x="201.4" y="525.1" text-anchor="start" textLength="152.2" lengthAdjust="spacing">ENTORNO COMPETITIVO Y</text>
<text class="lr" x="201.4" y="539.1" text-anchor="start" textLength="152.2" lengthAdjust="spacing">TRANFORMACIÓN DIGITAL</text>
<text class="lr" x="666.0" y="513.7" text-anchor="start">UX/UI DESIGN</text>
<text class="lr" x="701.0" y="49.6" text-anchor="end">CHANGE</text>
<text class="lr" x="701.0" y="63.6" text-anchor="end">MANAGEMENT</text>
<text class="lr" x="811.8" y="33.6" text-anchor="start" textLength="70.5" lengthAdjust="spacing">GESTIÓN DE</text>
<text class="lr" x="811.8" y="47.6" text-anchor="start" textLength="121.0" lengthAdjust="spacing">RESULTADOS Y OKRs</text>
<text class="lr" x="923.3" y="340.4" text-anchor="start">APLICACIÓN DE</text>
<text class="lr" x="923.3" y="354.4" text-anchor="start">METODOLOGÍAS</text>
<text class="lr" x="923.3" y="368.4" text-anchor="start">ÁGILES</text>
<text class="lr" x="824.0" y="600.2" text-anchor="end" textLength="72.5" lengthAdjust="spacing">START-UPS Y</text>
<text class="lr" x="824.0" y="614.2" text-anchor="end">EMPRENDIMIENTO</text>
<text class="lr" x="861.0" y="658.2" text-anchor="end">HUB DE</text>
<text class="lr" x="861.0" y="672.2" text-anchor="end">INNOVACIÓN</text>
<text class="lr" x="949.5" y="661.2" text-anchor="start">INNOVACIÓN Y</text>
<text class="lr" x="949.5" y="675.2" text-anchor="start">DESIGN THINKING</text>
<text class="lr" x="1076.0" y="554.2" text-anchor="start">BUSINESS</text>
<text class="lr" x="1076.0" y="568.2" text-anchor="start">MODEL CANVAS</text>
<text class="lr" x="1018.5" y="57.8" text-anchor="start" textLength="134.5" lengthAdjust="spacing">LEGO<tspan class="reg" dy="-1.5">®</tspan><tspan dy="1.5"> SERIOUS PLAY</tspan><tspan class="reg" dy="-1.5">®</tspan></text>
<text class="lr" x="1213.5" y="29.9" text-anchor="start" textLength="104.5" lengthAdjust="spacing">PRESENTACIONES</text>
<text class="lr" x="1213.5" y="43.9" text-anchor="start" textLength="104.5" lengthAdjust="spacing">DE ALTO IMPACTO</text>
<text class="lr" x="1318.7" y="358.3" text-anchor="start">SIMULADOR BUSINESS</text>
<text class="lr" x="1318.7" y="372.3" text-anchor="start">MANAGEMENT</text>
<text class="lr" x="1204.0" y="634.7" text-anchor="start">PLAN DE</text>
<text class="lr" x="1204.0" y="648.7" text-anchor="start">TRANFORMACIÓN</text>
<text class="lr" x="1204.0" y="662.7" text-anchor="start">DIGITAL I</text>
<text class="lr" x="1335.0" y="655.2" text-anchor="start">PLAN DE</text>
<text class="lr" x="1335.0" y="669.2" text-anchor="start">TRANFORMACIÓN</text>
<text class="lr" x="1335.0" y="683.2" text-anchor="start">DIGITAL II</text>
<text class="lb st" x="389.7" y="65.8">*</text>
<text class="lb" x="401.5" y="61.4">ASPECTOS</text>
<text class="lb" x="401.5" y="75.4">LEGALES TI</text>
<text class="lb st" x="113.7" y="271.3">*</text>
<text class="lb" x="126.5" y="266.9">E-BUSINESS</text>
<text class="lb" x="115.0" y="280.9">GOVERNANCE</text>
<text class="lb st" x="551.7" y="155.0">*</text>
<text class="lb" x="563.5" y="150.6">REDISEÑO</text>
<text class="lb" x="538.5" y="164.6">DE PROCESOS</text>
<text class="lb st" x="922.2" y="114.0">*</text>
<text class="lb" x="935.0" y="109.6">GESTIÓN</text>
<text class="lb" x="935.0" y="123.6">ESTRATÉGICA</text>
<text class="lb st" x="914.7" y="182.4">*</text>
<text class="lb" x="926.0" y="178.0">CUSTOMER</text>
<text class="lb" x="926.0" y="192.0">CENTRIC</text>
<text class="lb st" x="1307.2" y="105.7">*</text>
<text class="lb" x="1320.5" y="101.3">NEGOCIACIÓN</text>
<text class="lb" x="1320.5" y="115.3">EFECTIVA</text>
<text class="bt" x="302.3" y="173.2" text-anchor="middle" fill="#fff" stroke="#fff" textLength="59.8" lengthAdjust="spacingAndGlyphs">DIGITAL</text>
<text class="bt" x="302.3" y="188.9" text-anchor="middle" fill="#fff" stroke="#fff" textLength="113.2" lengthAdjust="spacingAndGlyphs">MANAGEMENT</text>
<text class="bt" x="516.7" y="482.3" text-anchor="middle" fill="#695ea5" stroke="#695ea5" textLength="145.4" lengthAdjust="spacingAndGlyphs">TRANSFORMACIÓN</text>
<text class="bt" x="516.7" y="498.0" text-anchor="middle" fill="#695ea5" stroke="#695ea5" textLength="60.2" lengthAdjust="spacingAndGlyphs">DIGITAL</text>
<text class="bt" x="758.2" y="156.7" text-anchor="middle" fill="#fff" stroke="#fff">GESTIÓN</text>
<text class="bt" x="758.2" y="172.4" text-anchor="middle" fill="#fff" stroke="#fff">EMPRESARIAL</text>
<text class="bt" x="961.0" y="521.4" text-anchor="middle" fill="#fff" stroke="#fff">INNOVACIÓN</text>
<text class="bt" x="961.0" y="537.1" text-anchor="middle" fill="#fff" stroke="#fff">Y AGILIDAD</text>
<text class="bt" x="1184.7" y="170.4" text-anchor="middle" fill="#fff" stroke="#fff">SOFT</text>
<text class="bt" x="1184.7" y="186.1" text-anchor="middle" fill="#fff" stroke="#fff">SKILLS</text>
<text class="bt" x="1350.0" y="524.8" text-anchor="middle" fill="#695ea5" stroke="#695ea5">INTEGRACIÓN</text>
<text class="hd" x="69.5" y="672.3" textLength="302" lengthAdjust="spacingAndGlyphs">Maestría en Gerencia</text>
<text class="hd" x="69.5" y="702.6" textLength="429" lengthAdjust="spacingAndGlyphs">de TI y Transformación Digital</text>
<text class="ft" x="70.5" y="735" textLength="676" lengthAdjust="spacing">*Para la modalidad presencial, estos cursos se programan de manera virtual sincrónica.</text>
</svg>
</body></html>
